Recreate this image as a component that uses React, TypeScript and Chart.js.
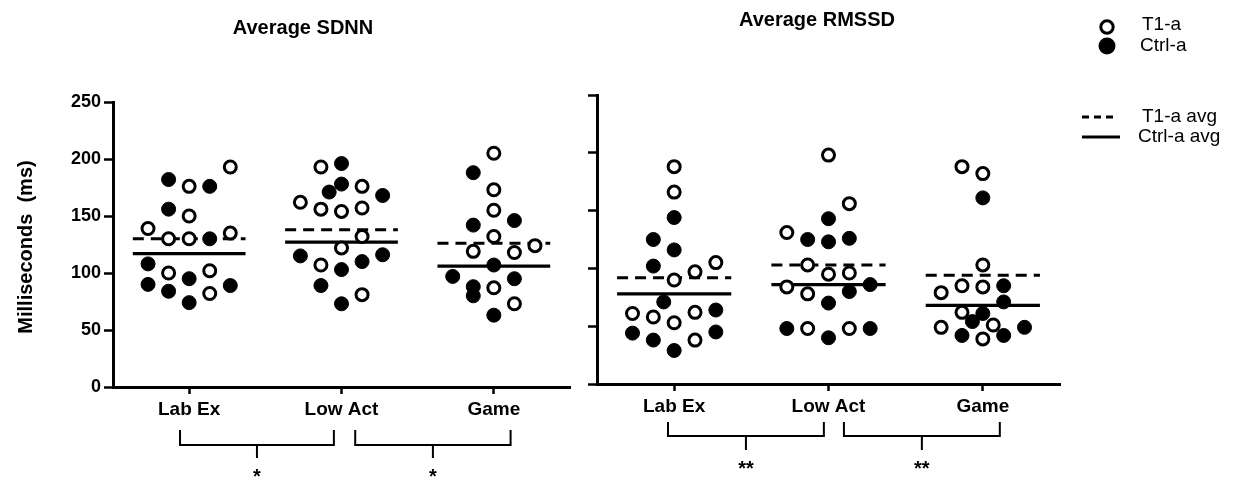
import React, { useEffect, useRef } from "react";
import { Chart, registerables } from "chart.js";
Chart.register(...registerables);

const FONT = '"Liberation Sans", Arial, Helvetica, sans-serif';

const categories = ["Lab Ex", "Low Act", "Game"];
const yTickValues = [0, 50, 100, 150, 200, 250];

// ---- Average SDNN ----
const sdnnT1 = [
  [193, 176, 150, 139, 130, 130, 135, 100, 102, 82],
  [193, 176, 162, 156, 154, 157, 132, 122, 107, 81],
  [205, 173, 155, 132, 119, 118, 124, 87, 73],
];
const sdnnT1Slots = [
  [2, 0, 0, -2, -1, 0, 2, -1, 1, 1],
  [-1, 1, -2, -1, 0, 1, 1, 0, -1, 1],
  [0, 0, 0, 0, -1, 1, 2, 0, 1],
];
const sdnnCtrl = [
  [182, 176, 156, 130, 108, 90, 84, 95, 89, 74],
  [196, 178, 171, 168, 115, 110, 116, 103, 89, 73],
  [188, 142, 146, 107, 97, 88, 80, 95, 63],
];
const sdnnCtrlSlots = [
  [-1, 1, -1, 1, -2, -2, -1, 0, 2, 0],
  [0, 0, -0.6, 2, -2, 1, 2, 0, -1, 0],
  [-1, -1, 1, 0, -2, -1, -1, 1, 0],
];
const sdnnT1Avg = [130, 138, 126];
const sdnnCtrlAvg = [117, 127, 106];
const sdnnBrackets = [
  { from: -0.06, to: 0.95, label: "*" },
  { from: 1.09, to: 2.11, label: "*" },
];

// ---- Average RMSSD ----
const rmssdT1 = [
  [188, 166, 105, 97, 90, 61, 58, 53, 62, 38],
  [198, 156, 131, 103, 95, 96, 84, 78, 48, 48],
  [188, 182, 103, 85, 84, 79, 62, 49, 51, 39],
];
const rmssdT1Slots = [
  [0, 0, 2, 1, 0, -2, -1, 0, 1, 1],
  [0, 1, -2, -1, 0, 1, -2, -1, -1, 1],
  [-1, 0, 0, -1, 0, -2, -1, -2, 0.5, 0],
];
const rmssdCtrl = [
  [144, 125, 116, 102, 71, 64, 44, 38, 29, 45],
  [143, 125, 123, 126, 86, 80, 70, 48, 48, 40],
  [161, 85, 71, 61, 54, 49, 42, 42],
];
const rmssdCtrlSlots = [
  [0, -1, 0, -1, -0.5, 2, -2, -1, 0, 2],
  [0, -1, 0, 1, 2, 1, 0, -2, 2, 0],
  [0, 1, 1, 0, -0.5, 2, -1, 1],
];
const rmssdT1Avg = [92, 103, 94];
const rmssdCtrlAvg = [78, 86, 68];
const rmssdBrackets = [
  { from: -0.04, to: 0.97, label: "**" },
  { from: 1.1, to: 2.11, label: "**" },
];

const legendLabels = ["T1-a", "Ctrl-a", "T1-a avg", "Ctrl-a avg"];

const STEP = 0.135;
const HALF = 0.37;

function toPoints(values: number[][], slots: number[][]) {
  return values.flatMap((vals, ci) =>
    vals.map((v, k) => ({ x: ci + slots[ci][k] * STEP, y: v }))
  );
}
function avgLine(avg: number[]) {
  return avg.flatMap((v, i) => [
    { x: i - HALF, y: v },
    { x: i + HALF, y: v },
    { x: i + 0.5, y: null },
  ]);
}

function buildDatasets(t1, t1s, ctrl, ctrls, t1Avg, ctrlAvg) {
  return [
    {
      label: "T1-a",
      data: toPoints(t1, t1s),
      pointRadius: 6,
      pointBorderWidth: 3,
      pointBackgroundColor: "#fff",
      pointBorderColor: "#000",
      order: 0,
    },
    {
      label: "Ctrl-a",
      data: toPoints(ctrl, ctrls),
      pointRadius: 7,
      pointBorderWidth: 1,
      pointBackgroundColor: "#000",
      pointBorderColor: "#000",
      order: 1,
    },
    {
      type: "line",
      label: "T1-a avg",
      data: avgLine(t1Avg),
      borderColor: "#000",
      borderWidth: 3,
      borderDash: [11, 7],
      pointRadius: 0,
      spanGaps: false,
      fill: false,
      order: 3,
    },
    {
      type: "line",
      label: "Ctrl-a avg",
      data: avgLine(ctrlAvg),
      borderColor: "#000",
      borderWidth: 3.2,
      pointRadius: 0,
      spanGaps: false,
      fill: false,
      order: 2,
    },
  ];
}

function decorPlugin(p) {
  return {
    id: "decor",
    afterDraw(chart) {
      const { ctx, chartArea, scales } = chart;
      ctx.save();
      ctx.fillStyle = "#000";
      ctx.strokeStyle = "#000";
      // title
      ctx.font = `bold 20px ${FONT}`;
      ctx.textAlign = "center";
      ctx.textBaseline = "middle";
      ctx.fillText(p.title, p.titleX, p.titleY);
      // y axis title
      if (p.yTitle) {
        ctx.save();
        ctx.translate(p.yTitleX, p.yTitleY);
        ctx.rotate(-Math.PI / 2);
        ctx.font = `bold 20px ${FONT}`;
        ctx.fillText(p.yTitle, 0, 0);
        ctx.restore();
      }
      // brackets
      const xs = scales.x;
      const b0 = chartArea.bottom;
      ctx.lineWidth = 2;
      p.brackets.forEach((b) => {
        const x1 = xs.getPixelForValue(b.from);
        const x2 = xs.getPixelForValue(b.to);
        const mid = (x1 + x2) / 2;
        const yt = b0 + p.bTop;
        const yb = b0 + p.bBottom;
        ctx.beginPath();
        ctx.moveTo(x1, yt);
        ctx.lineTo(x1, yb);
        ctx.lineTo(x2, yb);
        ctx.lineTo(x2, yt);
        ctx.moveTo(mid, yb);
        ctx.lineTo(mid, b0 + p.bStem);
        ctx.stroke();
        ctx.font = `bold 20px ${FONT}`;
        ctx.textBaseline = "alphabetic";
        ctx.fillText(b.label, mid, b0 + p.bStar + 11);
      });
      // legend
      if (p.legend) {
        const lx = chartArea.right;
        ctx.textAlign = "left";
        ctx.textBaseline = "middle";
        ctx.font = `19px ${FONT}`;
        ctx.lineWidth = 3;
        ctx.beginPath();
        ctx.arc(lx + 47, 27, 6.2, 0, Math.PI * 2);
        ctx.fillStyle = "#fff";
        ctx.fill();
        ctx.stroke();
        ctx.fillStyle = "#000";
        ctx.beginPath();
        ctx.arc(lx + 47, 46, 8.5, 0, Math.PI * 2);
        ctx.fill();
        ctx.fillText(legendLabels[0], lx + 82, 25);
        ctx.fillText(legendLabels[1], lx + 80, 46);
        ctx.lineWidth = 3;
        ctx.setLineDash([7, 5]);
        ctx.beginPath();
        ctx.moveTo(lx + 22, 117);
        ctx.lineTo(lx + 53, 117);
        ctx.stroke();
        ctx.setLineDash([]);
        ctx.lineWidth = 3.2;
        ctx.beginPath();
        ctx.moveTo(lx + 22, 137);
        ctx.lineTo(lx + 60, 137);
        ctx.stroke();
        ctx.fillText(legendLabels[2], lx + 82, 117);
        ctx.fillText(legendLabels[3], lx + 78, 137);
      }
      ctx.restore();
    },
  };
}

function makeConfig(p) {
  return {
    type: "scatter",
    data: { datasets: p.datasets },
    options: {
      animation: false,
      responsive: false,
      events: [],
      layout: { padding: { top: p.top, right: p.right, left: 0, bottom: 0 } },
      plugins: {
        legend: { display: false },
        tooltip: { enabled: false },
        title: { display: false },
      },
      scales: {
        x: {
          type: "linear",
          min: -0.5,
          max: 2.5,
          afterBuildTicks: (s) => {
            s.ticks = categories.map((_, i) => ({ value: i }));
          },
          afterFit: (s) => {
            s.height = p.xHeight;
          },
          ticks: {
            autoSkip: false,
            maxRotation: 0,
            padding: 4,
            color: "#000",
            font: { family: FONT, size: 19, weight: "bold" },
            callback: (v) => categories[Math.round(v)],
          },
          grid: {
            drawOnChartArea: false,
            drawTicks: true,
            tickLength: 7,
            tickWidth: 2.5,
            tickColor: "#000",
          },
          border: { display: true, width: 3, color: "#000" },
        },
        y: {
          min: 0,
          max: 250,
          afterBuildTicks: (s) => {
            s.ticks = yTickValues.map((v) => ({ value: v }));
          },
          afterFit: (s) => {
            s.width = p.yWidth;
          },
          ticks: {
            display: p.yLabels,
            padding: 3,
            color: "#000",
            font: { family: FONT, size: 18, weight: "bold" },
          },
          grid: {
            drawOnChartArea: false,
            drawTicks: true,
            tickLength: 9,
            tickWidth: 2.5,
            tickColor: "#000",
          },
          border: { display: true, width: 3, color: "#000" },
        },
      },
    },
    plugins: [decorPlugin(p)],
  };
}

export default function App() {
  const leftRef = useRef<HTMLCanvasElement>(null);
  const rightRef = useRef<HTMLCanvasElement>(null);

  useEffect(() => {
    const left = new Chart(
      leftRef.current,
      makeConfig({
        datasets: buildDatasets(sdnnT1, sdnnT1Slots, sdnnCtrl, sdnnCtrlSlots, sdnnT1Avg, sdnnCtrlAvg),
        top: 102,
        right: 15,
        xHeight: 90,
        yWidth: 113,
        yLabels: true,
        title: "Average SDNN",
        titleX: 303,
        titleY: 28,
        yTitle: "Milliseconds  (ms)",
        yTitleX: 26,
        yTitleY: 247,
        brackets: sdnnBrackets,
        bTop: 43,
        bBottom: 58,
        bStem: 71,
        bStar: 85,
        legend: false,
      })
    );
    const right = new Chart(
      rightRef.current,
      makeConfig({
        datasets: buildDatasets(rmssdT1, rmssdT1Slots, rmssdCtrl, rmssdCtrlSlots, rmssdT1Avg, rmssdCtrlAvg),
        top: 95,
        right: 173,
        xHeight: 93,
        yWidth: 17,
        yLabels: false,
        title: "Average RMSSD",
        titleX: 237,
        titleY: 20,
        yTitle: null,
        brackets: rmssdBrackets,
        bTop: 38,
        bBottom: 52,
        bStem: 66,
        bStar: 80,
        legend: true,
      })
    );
    return () => {
      left.destroy();
      right.destroy();
    };
  }, []);

  return (
    <div style={{ position: "fixed", left: 0, top: 0, width: 1233, height: 477, background: "#fff" }}>
      <canvas ref={leftRef} width={585} height={477} style={{ position: "absolute", left: 0, top: 0, width: 585, height: 477 }} />
      <canvas ref={rightRef} width={653} height={477} style={{ position: "absolute", left: 580, top: 0, width: 653, height: 477 }} />
    </div>
  );
}
